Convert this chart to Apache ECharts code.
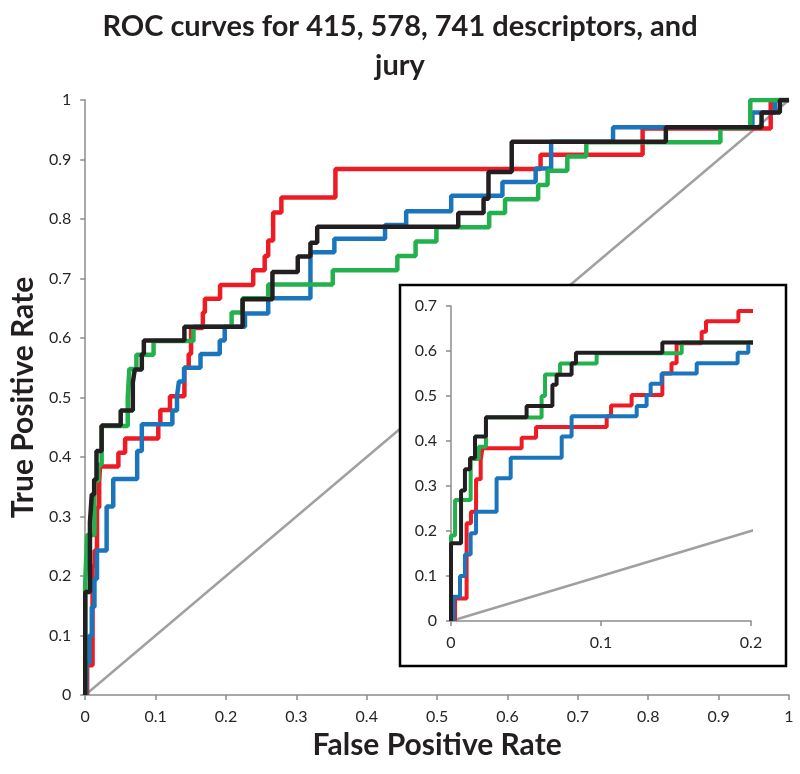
<!DOCTYPE html>
<html>
<head>
<meta charset="utf-8">
<script src="https://cdn.jsdelivr.net/npm/echarts@6/dist/echarts.min.js"></script>
<style>
  html, body { margin: 0; padding: 0; background: #fff; }
  #chart { width: 800px; height: 774px; }
</style>
</head>
<body>
<div id="chart"></div>
<script>
// ROC points [false positive rate, true positive rate]
var roc415 = [[0.0027,0],[0.0027,0.05],[0.0104,0.05],[0.0104,0.217],[0.0133,0.217],[0.0133,0.243],
  [0.0167,0.243],[0.0167,0.315],[0.0198,0.315],[0.0198,0.358],[0.021,0.358],[0.021,0.384],
  [0.0471,0.384],[0.0471,0.407],[0.0567,0.407],[0.0567,0.431],[0.1038,0.431],[0.1038,0.455],
  [0.1067,0.455],[0.1067,0.479],[0.1204,0.479],[0.1204,0.502],[0.1409,0.502],[0.1409,0.55],
  [0.147,0.55],[0.147,0.573],[0.1504,0.573],[0.1504,0.617],[0.1671,0.617],[0.1671,0.643],
  [0.17,0.643],[0.17,0.666],[0.1916,0.666],[0.1916,0.689],[0.2387,0.689],[0.2387,0.714],
  [0.255,0.714],[0.255,0.738],[0.26,0.738],[0.26,0.764],[0.267,0.764],[0.267,0.811],
  [0.2787,0.811],[0.2787,0.836],[0.3555,0.836],[0.3555,0.884],[0.647,0.884],[0.647,0.908],
  [0.792,0.908],[0.792,0.952],[0.974,0.952],[0.974,1],[1,1]];

var roc578 = [[0,0],[0,0.19],[0.0027,0.19],[0.0027,0.269],[0.0131,0.269],[0.0131,0.36],
  [0.0185,0.36],[0.0185,0.387],[0.0233,0.387],[0.0233,0.452],[0.0604,0.452],[0.0604,0.5],
  [0.0627,0.5],[0.0627,0.548],[0.0727,0.548],[0.0727,0.572],[0.0971,0.572],[0.0971,0.595],
  [0.1538,0.595],[0.1538,0.619],[0.208,0.619],[0.208,0.643],[0.2236,0.643],[0.2236,0.667],
  [0.26,0.667],[0.26,0.69],[0.3517,0.69],[0.3517,0.714],[0.4435,0.714],[0.4435,0.738],
  [0.4694,0.738],[0.4694,0.762],[0.499,0.762],[0.499,0.786],[0.574,0.786],[0.574,0.81],
  [0.5965,0.81],[0.5965,0.833],[0.6436,0.833],[0.6436,0.857],[0.657,0.857],[0.657,0.881],
  [0.685,0.881],[0.685,0.905],[0.712,0.905],[0.712,0.929],[0.9025,0.929],[0.9025,0.953],
  [0.945,0.953],[0.945,1],[1,1]];

var roc741 = [[0.0016,0],[0.0016,0.054],[0.006,0.054],[0.006,0.1],[0.0093,0.1],[0.0093,0.148],
  [0.0131,0.148],[0.0131,0.195],[0.0167,0.195],[0.0167,0.243],[0.0304,0.243],[0.0304,0.317],
  [0.0398,0.317],[0.0398,0.363],[0.0738,0.363],[0.0738,0.41],[0.0804,0.41],[0.0804,0.455],
  [0.1238,0.455],[0.1238,0.478],[0.1304,0.478],[0.1304,0.502],[0.1331,0.502],[0.1331,0.527],
  [0.1404,0.527],[0.1404,0.55],[0.1638,0.55],[0.1638,0.573],[0.1911,0.573],[0.1911,0.596],
  [0.1982,0.596],[0.1982,0.619],[0.227,0.619],[0.227,0.641],[0.26,0.641],[0.26,0.667],
  [0.32,0.667],[0.32,0.744],[0.354,0.744],[0.354,0.767],[0.426,0.767],[0.426,0.79],
  [0.456,0.79],[0.456,0.813],[0.52,0.813],[0.52,0.839],[0.5928,0.839],[0.5928,0.862],
  [0.64,0.862],[0.64,0.885],[0.662,0.885],[0.662,0.93],[0.75,0.93],[0.75,0.954],
  [0.948,0.954],[0.948,0.979],[0.98,0.979],[0.98,1],[1,1]];

var rocJury = [[0,0],[0,0.173],[0.0067,0.173],[0.0067,0.29],[0.0093,0.29],[0.0093,0.337],
  [0.0127,0.337],[0.0127,0.362],[0.016,0.362],[0.016,0.41],[0.0233,0.41],[0.0233,0.453],
  [0.0504,0.453],[0.0504,0.478],[0.0676,0.478],[0.0676,0.525],[0.0704,0.525],[0.0704,0.547],
  [0.0804,0.547],[0.0804,0.573],[0.0833,0.573],[0.0833,0.596],[0.1409,0.596],[0.1409,0.619],
  [0.2236,0.619],[0.2236,0.665],[0.266,0.665],[0.266,0.711],[0.302,0.711],[0.302,0.737],
  [0.32,0.737],[0.32,0.76],[0.3296,0.76],[0.3296,0.787],[0.53,0.787],[0.53,0.81],
  [0.566,0.81],[0.566,0.834],[0.573,0.834],[0.573,0.879],[0.606,0.879],[0.606,0.93],
  [0.825,0.93],[0.825,0.954],[0.961,0.954],[0.961,0.979],[0.987,0.979],[0.987,1],[1,1]];

var chance = [[0,0],[1,1]];

var mainTicks = [0, 0.1, 0.2, 0.3, 0.4, 0.5, 0.6, 0.7, 0.8, 0.9, 1];

var chart = echarts.init(document.getElementById('chart'));

var axisGray = '#8c8c8c';
var labelFont = 'Lato';

function axisStyle(extra) {
	var base = {
		type: 'value',
		splitLine: { show: false },
		axisLine: { show: true, lineStyle: { color: axisGray, width: 1.5 } },
		axisTick: { show: true, length: 5, lineStyle: { color: axisGray, width: 1.5 } },
		axisLabel: { color: '#262626', fontSize: 16, fontFamily: labelFont, margin: 14 }
	};
	for (var k in extra) base[k] = extra[k];
	return base;
}

function curve(name, data, color, axis, z, w) {
	return {
		name: name,
		type: 'line',
		data: data,
		xAxisIndex: axis,
		yAxisIndex: axis,
		showSymbol: false,
		clip: true,
		z: z,
		lineStyle: { color: color, width: w }
	};
}

var colors = { red: '#ed1c24', green: '#22b14c', blue: '#1b75bc', black: '#231f20', gray: '#a0a0a0' };

var series = [];
[0, 1].forEach(function (i) {
	var z = i === 0 ? 2 : 12;
	var w = i === 0 ? 4.5 : 4;
	series.push({
		type: 'line', data: chance, xAxisIndex: i, yAxisIndex: i, showSymbol: false, clip: true, z: z,
		lineStyle: { color: colors.gray, width: 2.5 }
	});
	series.push(curve('415 descriptors', roc415, colors.red, i, z, w));
	series.push(curve('741 descriptors', roc741, colors.blue, i, z, w));
	series.push(curve('578 descriptors', roc578, colors.green, i, z, w));
	series.push(curve('jury', rocJury, colors.black, i, z, w));
});

var option = {
	animation: false,
	backgroundColor: '#fff',
	title: {
		text: 'ROC curves for 415, 578, 741 descriptors, and\njury',
		left: 'center',
		top: 2,
		textStyle: { fontFamily: labelFont, fontWeight: 'bold', fontSize: 29, lineHeight: 39, color: '#231f20' }
	},
	grid: [
		{ left: 81, top: 100, width: 708, height: 595 },
		{ left: 451, top: 306, width: 300, height: 315 }
	],
	xAxis: [
		axisStyle({
			gridIndex: 0, min: mainTicks[0], max: mainTicks[mainTicks.length - 1], interval: 0.1,
			name: 'False Positive Rate', nameLocation: 'middle', nameGap: 32,
			nameTextStyle: { fontFamily: labelFont, fontWeight: 'bold', fontSize: 30, color: '#231f20' }
		}),
		axisStyle({ gridIndex: 1, min: 0, max: 0.2, interval: 0.1, z: 11 })
	],
	yAxis: [
		axisStyle({
			gridIndex: 0, min: mainTicks[0], max: mainTicks[mainTicks.length - 1], interval: 0.1,
			name: 'True Positive Rate', nameLocation: 'middle', nameGap: 44,
			nameTextStyle: { fontFamily: labelFont, fontWeight: 'bold', fontSize: 30, color: '#231f20' }
		}),
		axisStyle({ gridIndex: 1, min: 0, max: 0.7, interval: 0.1, z: 11 })
	],
	graphic: [{
		type: 'rect',
		z: 10,
		shape: { x: 400, y: 285, width: 386, height: 381 },
		style: { fill: '#fff', stroke: '#000', lineWidth: 2.5 }
	}],
	series: series
};

chart.setOption(option);
</script>
</body>
</html>
